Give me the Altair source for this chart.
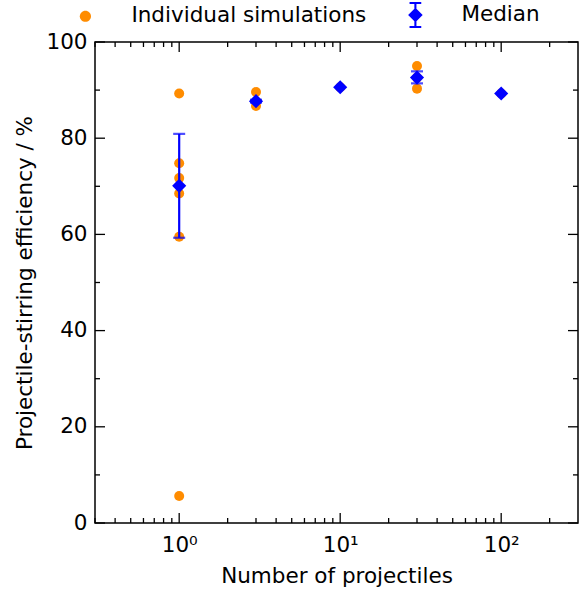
import altair as alt
import pandas as pd

# Individual simulation results (number of projectiles, efficiency %)
sim_n = [1, 1, 1, 1, 1, 1, 3, 3, 3, 10, 30, 30, 30, 100]
sim_eff = [89.3, 74.8, 71.7, 68.5, 59.5, 5.6, 89.6, 87.7, 86.7, 90.6, 95.0, 92.6, 90.3, 89.3]

# Median per projectile count
med_n = [1, 3, 10, 30, 100]
med_eff = [70.1, 87.7, 90.6, 92.6, 89.3]

# Error bars on the median
err_n = [1, 3, 30]
err_lo = [59.3, 87.4, 91.4]
err_hi = [80.9, 88.0, 93.9]

# Axis ticks
x_major = [1, 10, 100]
x_minor = [m * 10.0 ** e for e in (-1, 0, 1, 2) for m in range(2, 10)]
x_minor = [v for v in x_minor if 0.3 < v < 300]
y_major = [0, 20, 40, 60, 80, 100]
y_minor = [10, 30, 50, 70, 90]

W, H = 483, 481
FONT = "DejaVu Sans"
FS = 21.5
ORANGE = "#ff8c00"
BLUE = "#0000ff"

xscale = alt.Scale(type="log", domain=[0.3, 300], nice=False)
yscale = alt.Scale(domain=[0, 100], nice=False, zero=False)

sims = pd.DataFrame({"n": sim_n, "eff": sim_eff})
meds = pd.DataFrame({"n": med_n, "eff": med_eff})
errs = pd.DataFrame({"n": err_n, "lo": err_lo, "hi": err_hi})

points = alt.Chart(sims).mark_circle(size=100, opacity=1, color=ORANGE).encode(
    x=alt.X(
        "n:Q",
        scale=xscale,
        axis=alt.Axis(
            values=x_major,
            labelExpr="datum.value == 1 ? '10⁰' : datum.value == 10 ? '10¹' : '10²'",
            ticks=False,
            domain=False,
            grid=False,
            labelFontSize=FS,
            labelPadding=11,
            title="Number of projectiles",
            titleFontSize=FS,
            titleFontWeight="normal",
            titlePadding=10,
        ),
    ),
    y=alt.Y(
        "eff:Q",
        scale=yscale,
        axis=alt.Axis(
            values=y_major,
            ticks=False,
            domain=False,
            grid=False,
            labelFontSize=FS,
            labelPadding=8,
            title="Projectile-stirring efficiency / %",
            titleFontSize=FS,
            titleFontWeight="normal",
            titlePadding=9,
        ),
    ),
)

bars = alt.Chart(errs).mark_rule(color=BLUE, strokeWidth=2.2).encode(
    x=alt.X("n:Q", scale=xscale), y=alt.Y("lo:Q", scale=yscale), y2="hi:Q"
)
cap_lo = alt.Chart(errs).mark_tick(color=BLUE, orient="horizontal", thickness=2.2, size=12).encode(
    x=alt.X("n:Q", scale=xscale), y=alt.Y("lo:Q", scale=yscale)
)
cap_hi = alt.Chart(errs).mark_tick(color=BLUE, orient="horizontal", thickness=2.2, size=12).encode(
    x=alt.X("n:Q", scale=xscale), y=alt.Y("hi:Q", scale=yscale)
)

diamonds = alt.Chart(meds).mark_point(
    shape="diamond", filled=True, size=200, color=BLUE, opacity=1
).encode(x=alt.X("n:Q", scale=xscale), y=alt.Y("eff:Q", scale=yscale))

# Legend-only layer with custom glyphs (dot, and diamond with error bar);
# its own marks sit far outside the canvas.
circle_path = "M-0.43,0 A0.43,0.43 0 1,0 0.43,0 A0.43,0.43 0 1,0 -0.43,0 Z"
median_path = (
    "M-0.56,0 L0,-0.55 L0.56,0 L0,0.55 Z "
    "M-0.08,-1 L0.08,-1 L0.08,1 L-0.08,1 Z "
    "M-0.45,-1 L0.45,-1 L0.45,-0.85 L-0.45,-0.85 Z "
    "M-0.45,0.85 L0.45,0.85 L0.45,1 L-0.45,1 Z"
)
series = ["Individual simulations", "Median"]
legend_layer = alt.Chart(pd.DataFrame({"series": series})).mark_point(
    filled=True, opacity=1, size=676
).encode(
    x=alt.value(-3000),
    y=alt.value(-3000),
    color=alt.Color(
        "series:N",
        scale=alt.Scale(domain=series, range=[ORANGE, BLUE]),
        legend=alt.Legend(
            title=None,
            orient="none",
            legendX=-22.6,
            legendY=-40,
            direction="horizontal",
            labelFontSize=FS,
            labelFont=FONT,
            labelLimit=0,
            labelOffset=33,
            columnPadding=36,
            symbolSize=676,
            symbolStrokeWidth=0,
            padding=0,
        ),
    ),
    shape=alt.Shape(
        "series:N",
        scale=alt.Scale(domain=series, range=[circle_path, median_path]),
    ),
)


def x_tick_layers(vals, length):
    base = alt.Chart(pd.DataFrame({"n": vals})).mark_rule(color="black", strokeWidth=1.3)
    bottom = base.encode(x=alt.X("n:Q", scale=xscale), y=alt.value(H), y2=alt.value(H - length))
    top = base.encode(x=alt.X("n:Q", scale=xscale), y=alt.value(0), y2=alt.value(length))
    return [bottom, top]


def y_tick_layers(vals, length):
    base = alt.Chart(pd.DataFrame({"eff": vals})).mark_rule(color="black", strokeWidth=1.3)
    left = base.encode(y=alt.Y("eff:Q", scale=yscale), x=alt.value(0), x2=alt.value(length))
    right = base.encode(y=alt.Y("eff:Q", scale=yscale), x=alt.value(W), x2=alt.value(W - length))
    return [left, right]


ticks = (
    x_tick_layers(x_major, 10)
    + x_tick_layers(x_minor, 5)
    + y_tick_layers(y_major, 10)
    + y_tick_layers(y_minor, 5)
)

chart = (
    alt.layer(points, *ticks, bars, cap_lo, cap_hi, diamonds, legend_layer)
    .properties(
        width=W,
        height=H,
        autosize=alt.AutoSizeParams(type="none"),
        padding={"left": 95, "top": 42, "right": 7, "bottom": 66},
    )
    .configure(font=FONT, background="white")
    .configure_view(stroke="black", strokeWidth=1.5)
    .configure_axis(labelColor="black", titleColor="black", labelFont=FONT, titleFont=FONT)
    .configure_legend(labelColor="black")
)

chart.save("out.html", embed_options={"renderer": "svg", "actions": False})
